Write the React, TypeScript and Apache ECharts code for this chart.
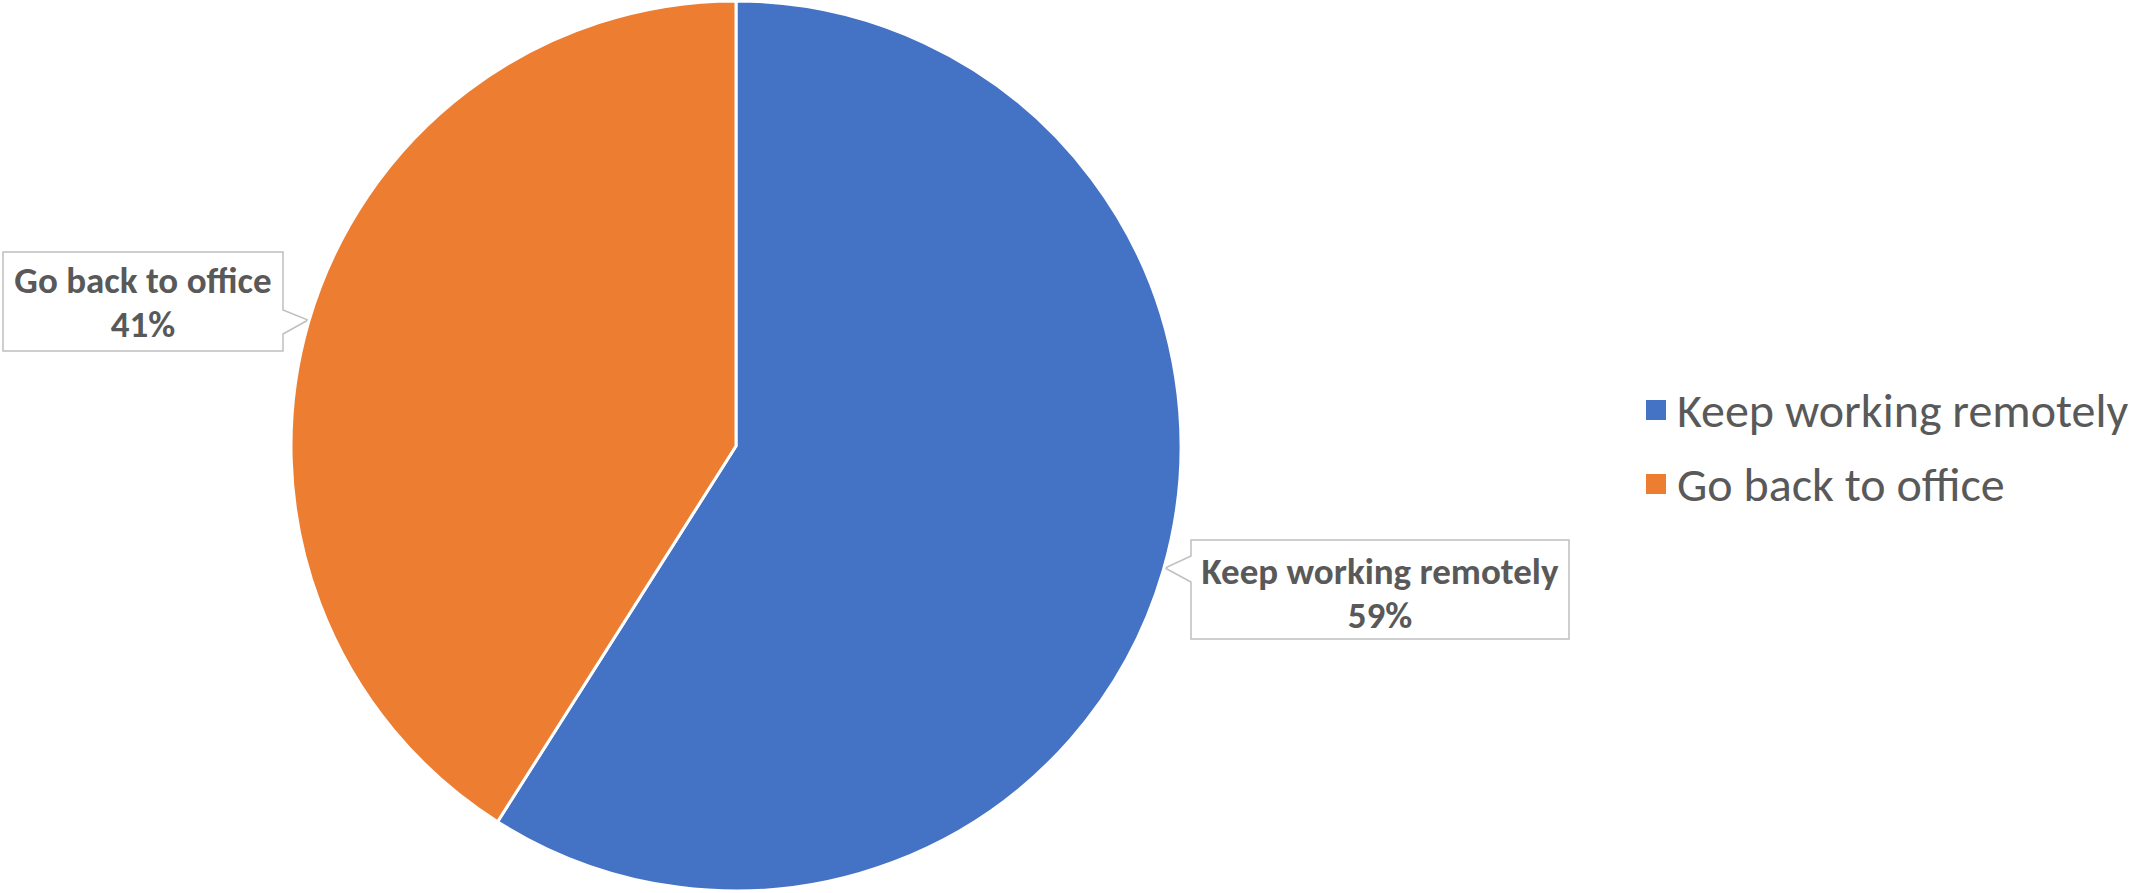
import React, { useEffect, useRef } from "react";
import * as echarts from "echarts";

const categories = ["Keep working remotely", "Go back to office"];
const values = [59, 41];
const colors = ["#4472C4", "#ED7D31"];

const TEXT = "#595959";
const FONT = "Carlito, Lato, 'Noto Sans', sans-serif";

export default function App() {
  const ref = useRef<HTMLDivElement>(null);
  useEffect(() => {
    if (!ref.current) return;
    const chart = echarts.init(ref.current, undefined, { renderer: "svg" });
    const labelPos = [
      { x: 1380, y: 593 },
      { x: 143, y: 302 },
    ];
    chart.setOption({
      animation: false,
      backgroundColor: "#ffffff",
      legend: {
        orient: "vertical",
        left: 1639,
        top: 377,
        icon: "rect",
        itemWidth: 22,
        itemHeight: 22,
        itemGap: 18,
        selectedMode: false,
        data: categories,
        textStyle: {
          color: TEXT,
          fontFamily: FONT,
          fontSize: 48,
          lineHeight: 56,
          padding: [0, 0, 0, 5],
        },
      },
      graphic: [
        {
          type: "polygon",
          z: 0,
          shape: {
            points: [
              [3, 252], [283, 252], [283, 310], [308, 320], [283, 334], [283, 351], [3, 351],
            ],
          },
          style: { fill: "#ffffff", stroke: "#bfbfbf", lineWidth: 1.5 },
        },
        {
          type: "polygon",
          z: 0,
          shape: {
            points: [
              [1191, 540], [1569, 540], [1569, 639], [1191, 639], [1191, 582], [1165, 568], [1191, 556],
            ],
          },
          style: { fill: "#ffffff", stroke: "#bfbfbf", lineWidth: 1.5 },
        },
      ],
      series: [
        {
          type: "pie",
          center: [736, 446],
          radius: 445,
          startAngle: 90,
          clockwise: true,
          avoidLabelOverlap: false,
          itemStyle: { borderColor: "#ffffff", borderWidth: 3 },
          label: {
            show: true,
            position: "outside",
            color: TEXT,
            fontFamily: FONT,
            fontWeight: "bold",
            fontSize: 37,
            lineHeight: 44,
            align: "center",
            formatter: (p: any) => `${p.name}\n${Math.round(p.percent)}%`,
          },
          labelLine: { show: false },
          labelLayout: (params: any) => {
            const pos = labelPos[params.dataIndex];
            return { x: pos.x, y: pos.y, align: "center", verticalAlign: "middle" };
          },
          emphasis: { disabled: true },
          data: categories.map((name, i) => ({
            name,
            value: values[i],
            itemStyle: { color: colors[i] },
          })),
        },
      ],
    });
    return () => chart.dispose();
  }, []);
  return (
    <div
      ref={ref}
      style={{ position: "fixed", left: 0, top: 0, width: 2131, height: 893 }}
    />
  );
}
